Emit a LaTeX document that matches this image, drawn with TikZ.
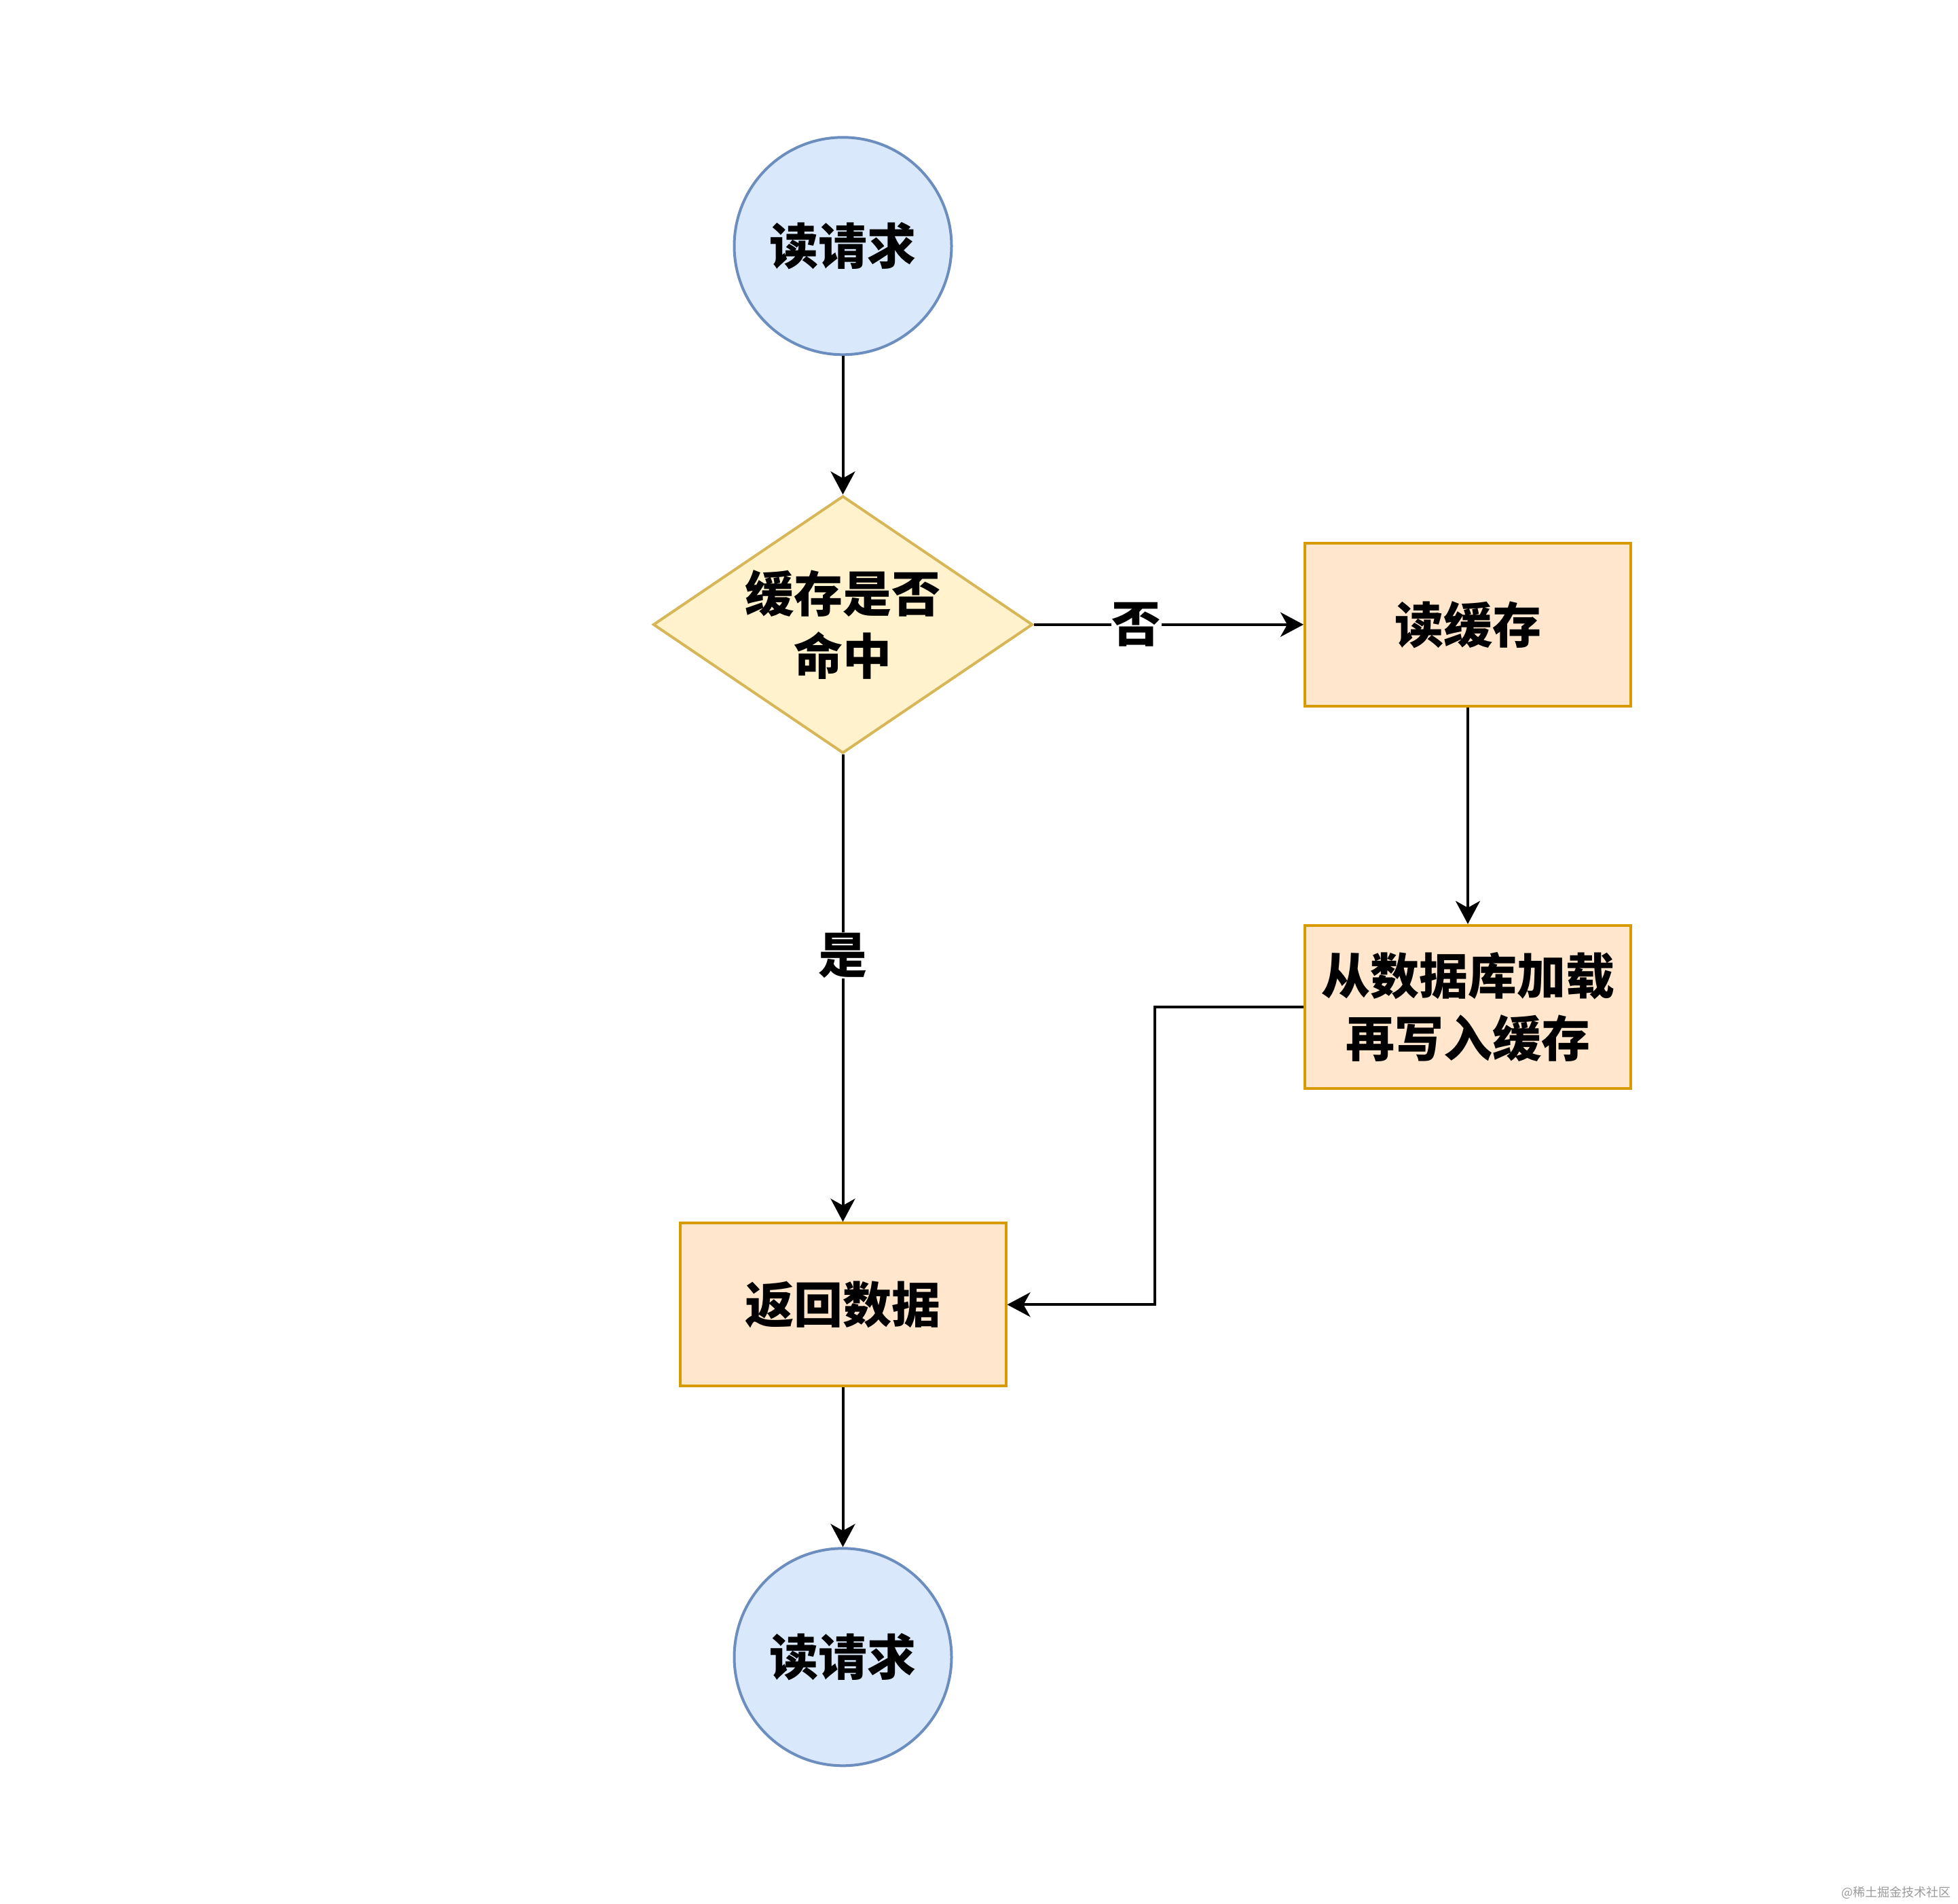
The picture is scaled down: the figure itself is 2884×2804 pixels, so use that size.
\documentclass[tikz,border=0pt]{standalone}
\usepackage{fontspec}
\usepackage{xcolor}
\usepackage{tikz}
\usetikzlibrary{positioning, arrows.meta, shapes.geometric}
\newfontfamily\cjk{Noto Sans CJK SC}
\definecolor{termfill}{HTML}{DAE8FC}
\definecolor{termborder}{HTML}{6C8EBF}
\definecolor{askfill}{HTML}{FFF2CC}
\definecolor{askborder}{HTML}{D6B656}
\definecolor{stepfill}{HTML}{FFE6CC}
\definecolor{stepborder}{HTML}{D79B00}
\definecolor{markgray}{HTML}{9A9A9A}
\tikzset{
  bigtext/.style={font=\cjk\bfseries\fontsize{72}{92}\selectfont},
  termnode/.style={circle, fill=termfill, draw=termborder, line width=4pt,
    minimum size=320pt, inner sep=0pt, bigtext},
  asknode/.style={diamond, shape aspect=1.475, fill=askfill, draw=askborder, line width=4pt,
    minimum width=559pt, minimum height=379pt, inner sep=0pt, align=center, bigtext},
  stepnode/.style={rectangle, fill=stepfill, draw=stepborder, line width=4pt,
    minimum width=480pt, minimum height=240pt, inner sep=0pt, align=center, bigtext},
  flowline/.style={line width=4pt, -{Stealth[length=34pt, width=36pt, inset=10pt]}},
  flowlabel/.style={fill=white, inner sep=1pt, bigtext}
}

\begin{document}
\begin{tikzpicture}[x=1pt, y=-1pt]
    \useasboundingbox (0,0) rectangle (2884,2804);
    \node[termnode] (start) at (1241.5,362.3) {读请求};
    \node[asknode, below=204pt of start] (hit) {缓存是否\\命中};
    \node[stepnode, right=397pt of hit] (cache) {读缓存};
    \node[stepnode, below=319pt of cache] (load) {从数据库加载\\再写入缓存};
    \node[stepnode, below=688pt of hit] (ret) {返回数据};
    \node[termnode, below=235pt of ret] (finish) {读请求};

    \draw[flowline] (start) -- (hit);
    \draw[flowline] (hit.east) -- node[flowlabel, pos=0.38] {否} (cache.west);
    \draw[flowline] (cache) -- (load);
    \draw[flowline] (hit.south) -- node[flowlabel, pos=0.43] {是} (ret.north);
    \draw[flowline] (load.west) -- ++(-219,0) |- (ret.east);
    \draw[flowline] (ret) -- (finish);

    \node[anchor=east, text=markgray, font=\cjk\fontsize{18}{20}\selectfont] (mark) at (2877,2787) {@稀土掘金技术社区};
  \end{tikzpicture}
\end{document}
